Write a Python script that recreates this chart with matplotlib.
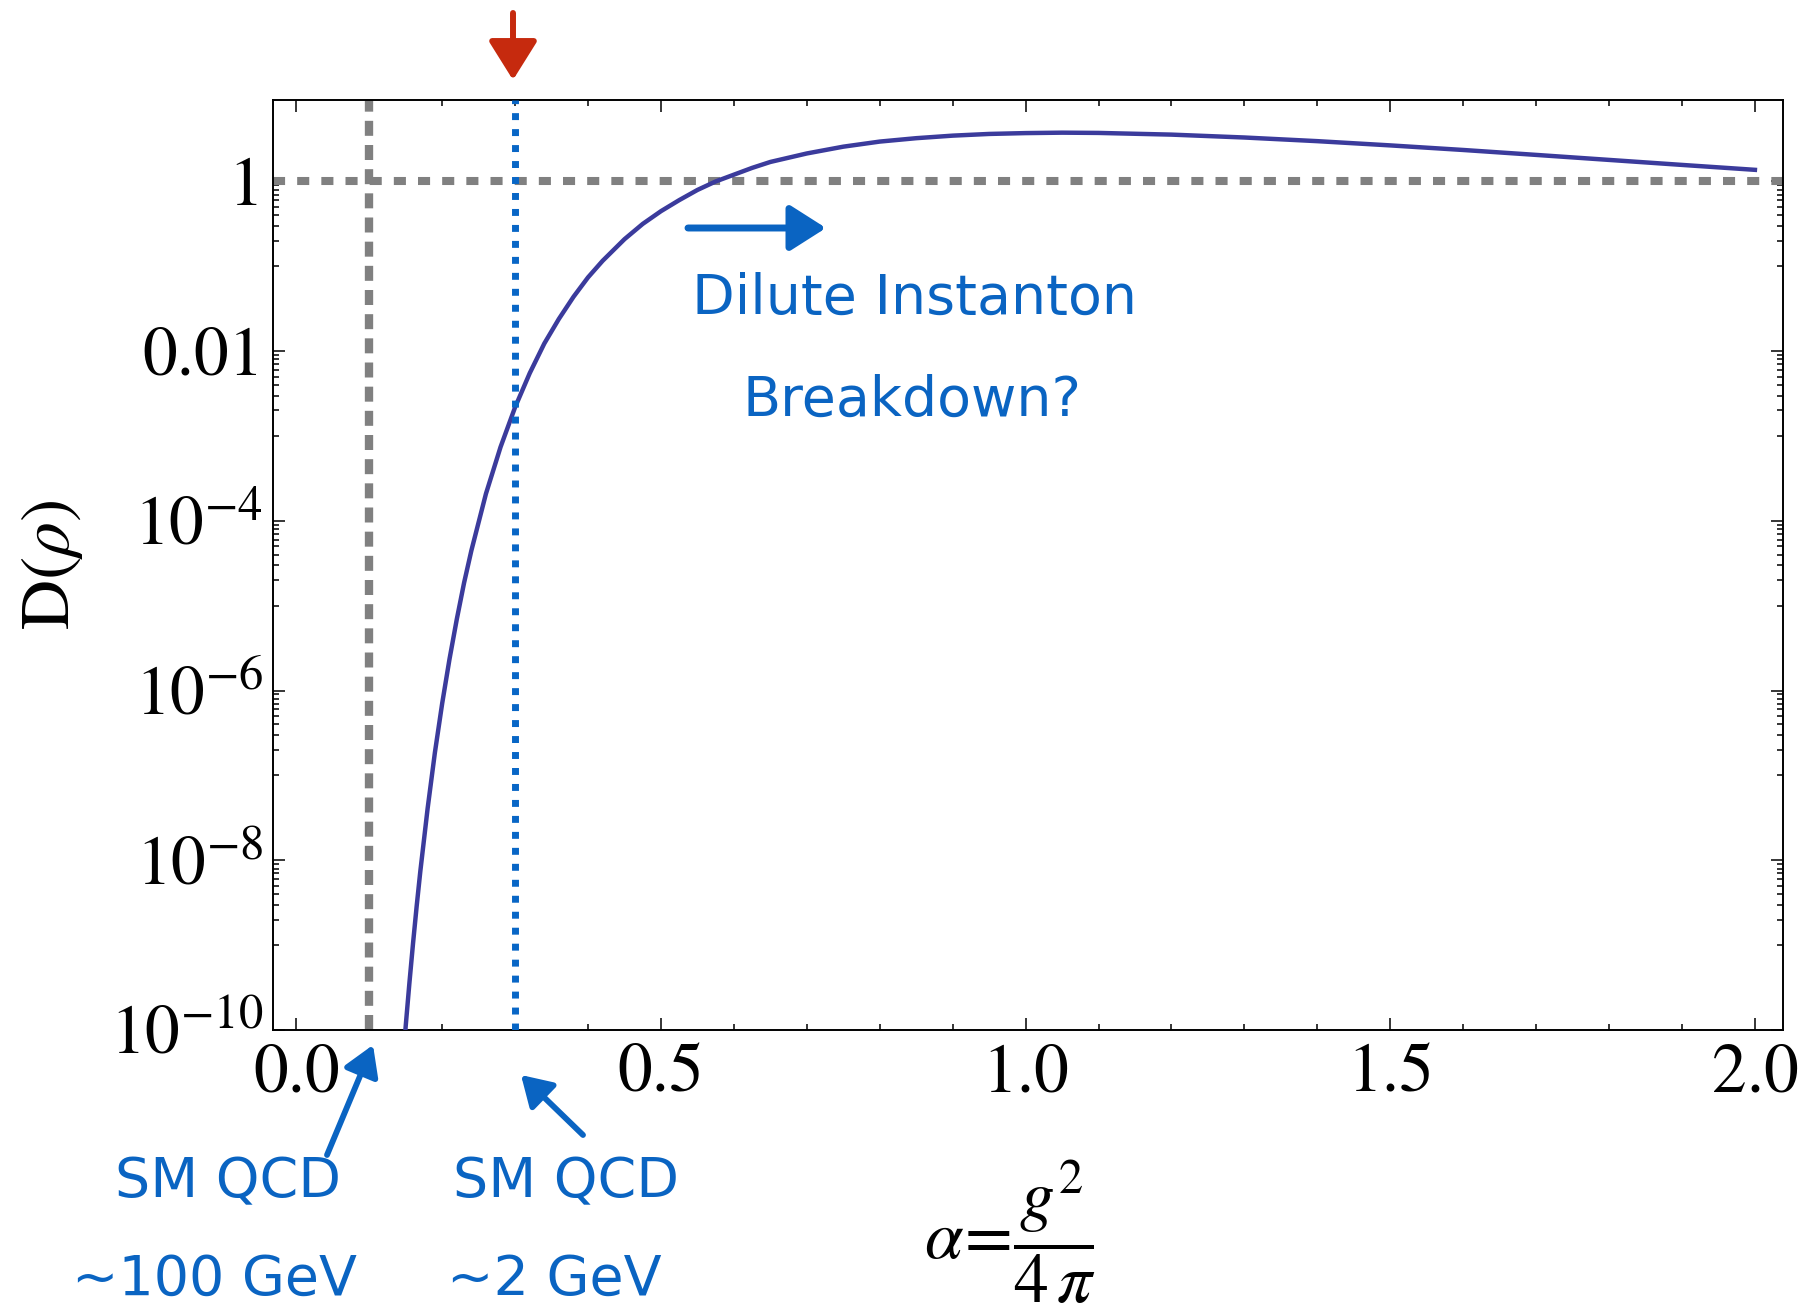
import matplotlib
matplotlib.use("Agg")
import matplotlib.pyplot as plt
import numpy as np
from matplotlib.patches import FancyArrowPatch

plt.rcParams['font.family'] = ['STIXGeneral', 'DejaVu Serif']
plt.rcParams['mathtext.fontset'] = 'stix'

# values (alpha, log10 D)
alpha = [0.145, 0.150, 0.155, 0.160, 0.165, 0.170, 0.180, 0.190, 0.200, 0.210,
         0.220, 0.230, 0.240, 0.260, 0.280, 0.300, 0.320, 0.340, 0.360, 0.380,
         0.400, 0.420, 0.450, 0.475, 0.500, 0.525, 0.550, 0.575, 0.600, 0.625,
         0.650, 0.700, 0.750, 0.800, 0.850, 0.900, 0.950, 1.000, 1.050, 1.100,
         1.200, 1.300, 1.400, 1.500, 1.600, 1.700, 1.800, 1.900, 2.000]
log_density = [-10.49, -9.95, -9.45, -8.98, -8.54, -8.13, -7.39, -6.73, -6.15, -5.63,
               -5.16, -4.73, -4.35, -3.68, -3.13, -2.66, -2.26, -1.91, -1.62, -1.36,
               -1.13, -0.935, -0.68, -0.50, -0.35, -0.22, -0.10, 0.00, 0.08, 0.16,
               0.23, 0.33, 0.41, 0.47, 0.51, 0.54, 0.56, 0.57, 0.575, 0.572,
               0.552, 0.518, 0.475, 0.425, 0.371, 0.313, 0.254, 0.195, 0.137]

x_ticks = [0.0, 0.5, 1.0, 1.5, 2.0]
x_labels = ['0.0', '0.5', '1.0', '1.5', '2.0']
y_ticks = [1e-10, 1e-8, 1e-6, 1e-4, 1e-2, 1.0]
y_labels = [r'$10^{-10}$', r'$10^{-8}$', r'$10^{-6}$', r'$10^{-4}$', '0.01', '1']

alpha_ew = 0.1   # ~100 GeV
alpha_qcd = 0.3  # ~2 GeV

W, H = 1801, 1310
fig = plt.figure(figsize=(W / 100, H / 100), dpi=100)
ax = fig.add_axes([273 / W, 1 - 1030 / H, (1783 - 273) / W, (1030 - 100) / H])


def fx(px):
    return px / W


def fy(py):
    return 1 - py / H


density = 10 ** np.array(log_density)
ax.plot(alpha, density, color='#3b3b9c', lw=3.2, zorder=3)

ax.axhline(1.0, color='#808080', lw=5.8, dashes=(1.5, 1.5), dash_capstyle='butt', zorder=2)
ax.axvline(alpha_ew, color='#808080', lw=6.0, dashes=(1.8, 1.1), dash_capstyle='butt', zorder=2)
ax.axvline(alpha_qcd, color='#0866c6', lw=5.0, dashes=(1.0, 1.3), dash_capstyle='butt', zorder=4)

ax.set_yscale('log')
ax.set_xlim(-0.032, 2.0385)
ax.set_ylim(1e-10, 10 ** 0.96)

ax.set_xticks(x_ticks)
ax.set_xticklabels(x_labels)
ax.set_xticks([i / 10 for i in range(1, 20) if i % 5 != 0], minor=True)
ax.set_yticks(y_ticks)
ax.set_yticklabels(y_labels)
y_minor = [j * 10.0 ** (2 * m - 1) for m in range(-4, 1) for j in range(1, 10)]
ax.set_yticks(y_minor, minor=True)
ax.yaxis.set_minor_formatter(matplotlib.ticker.NullFormatter())

ax.tick_params(which='both', direction='in', top=True, right=True, width=1.1, labelsize=50)
ax.tick_params(which='major', length=8.6)
ax.tick_params(which='minor', length=4.3)
ax.tick_params(axis='x', pad=10)
ax.tick_params(axis='y', pad=7)
for s in ax.spines.values():
    s.set_linewidth(1.4)

fig.text(fx(52), fy(565), r'D$(\rho)$', rotation=90, ha='center', va='center', fontsize=50)
fig.text(fx(1010), fy(1232), r'$\alpha\!=\!\dfrac{g^2}{4\,\pi}$', ha='center', va='center', fontsize=50)

# hand-drawn notes
blue = '#0a64c2'
hand = dict(family=['DejaVu Sans'], color=blue, fontsize=40, ha='center', va='center')
fig.text(fx(914), fy(299), 'Dilute Instanton', **hand)
fig.text(fx(912), fy(401), 'Breakdown?', **hand)
fig.text(fx(228), fy(1182), 'SM QCD', **hand)
fig.text(fx(566), fy(1182), 'SM QCD', **hand)
fig.text(fx(214), fy(1280), '~100 GeV', **hand)
fig.text(fx(554), fy(1280), '~2 GeV', **hand)


def arrow(p0, p1, color, lw, hl, hw):
    fig.add_artist(FancyArrowPatch(
        posA=(fx(p0[0]), fy(p0[1])), posB=(fx(p1[0]), fy(p1[1])),
        transform=fig.transFigure,
        arrowstyle=f'-|>,head_length={hl},head_width={hw}',
        mutation_scale=1, lw=lw, color=color,
        shrinkA=0, shrinkB=0, capstyle='round', joinstyle='round'))


arrow((513, 13), (513, 80), '#c62a0e', 4.3, 24, 15)
arrow((688, 228), (826, 228), blue, 5.0, 22, 14)
arrow((327, 1155), (373, 1045), blue, 4.2, 18, 11)
arrow((583, 1135), (521, 1075), blue, 4.2, 18, 11)

fig.savefig('out.png', dpi=100)
